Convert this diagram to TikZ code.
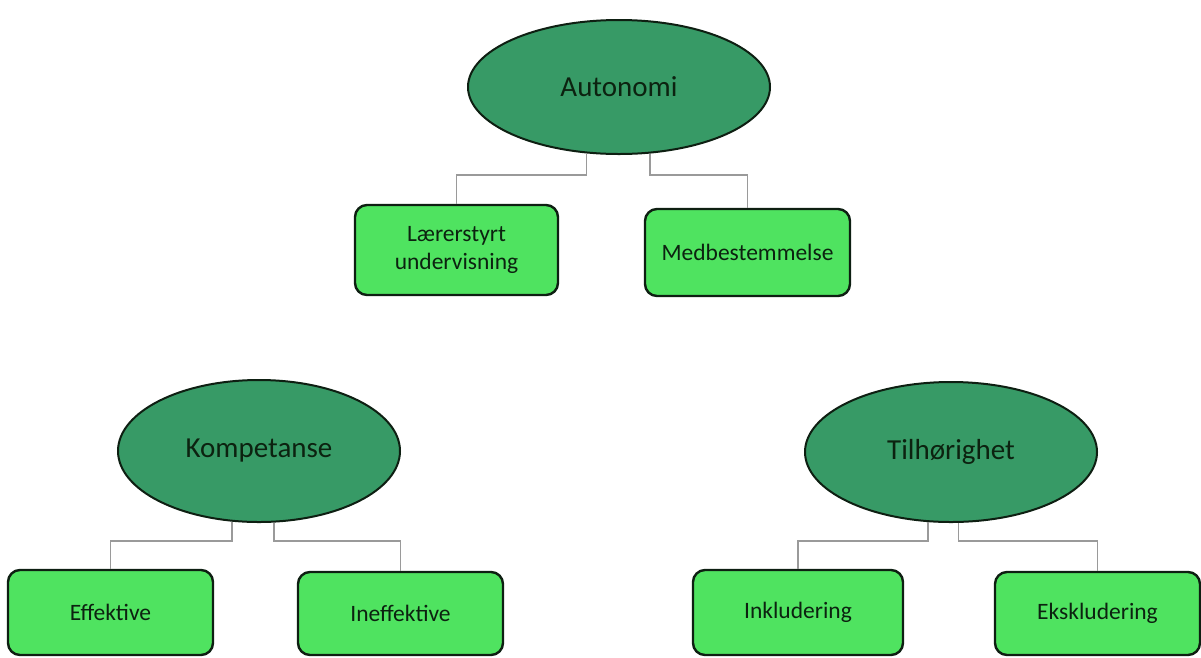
\documentclass[tikz,border=0pt]{standalone}
\usepackage{fontspec}
\setmainfont{Carlito}
\usetikzlibrary{shapes.geometric}
\definecolor{topicfill}{HTML}{379A66}
\definecolor{leaffill}{HTML}{4FE360}
\definecolor{edgedark}{HTML}{0E1F12}
\definecolor{linkgray}{HTML}{9A9A9A}
\definecolor{inkdark}{HTML}{0C2210}
\tikzset{
  topic/.style={ellipse, draw=edgedark, line width=2pt, fill=topicfill,
    inner sep=0pt, text=inkdark, font=\fontsize{29}{33}\selectfont},
  leaf/.style={rectangle, rounded corners=12pt, draw=edgedark, line width=2.4pt,
    fill=leaffill, inner sep=0pt, text=inkdark, align=center,
    font=\fontsize{23.5}{28}\selectfont},
  conn/.style={draw=linkgray, line width=1.6pt}
}
\begin{document}
\begin{tikzpicture}[x=1pt,y=-1pt]
\useasboundingbox (0,0) rectangle (1201,657);

% topics
\node[topic, minimum width=302pt, minimum height=134pt] (aut) at (619,87) {Autonomi};
\node[topic, minimum width=282pt, minimum height=142pt] (kom) at (259,451) {Kompetanse};
\node[topic, minimum width=292pt, minimum height=140pt] (til) at (951,452) {Tilhørighet};

% leaves
\node[leaf, minimum width=203pt, minimum height=90pt] (lae) at (456.5,250) {Lærerstyrt\\undervisning};
\node[leaf, minimum width=205pt, minimum height=87pt] (med) at (747.5,252.5) {Medbestemmelse};
\node[leaf, minimum width=205pt, minimum height=85pt] (eff) at (110.5,612.5) {Effektive};
\node[leaf, minimum width=205pt, minimum height=83pt] (ine) at (400.5,613.5) {Ineffektive};
\node[leaf, minimum width=210pt, minimum height=85pt] (ink) at (798,612.5) {Inkludering};
\node[leaf, minimum width=205pt, minimum height=83pt] (eks) at (1097.5,613.5) {Ekskludering};

% levels of the elbow connectors
\coordinate (autbus) at (0,175);
\coordinate (lowbus) at (0,541);

% connectors
\draw[conn] (aut.244.7) -- (aut.244.7 |- autbus) -| (lae.north);
\draw[conn] (aut.295.3) -- (aut.295.3 |- autbus) -| (med.north);
\draw[conn] (kom.249.6) -- (kom.249.6 |- lowbus) -| (eff.north);
\draw[conn] (kom.282.8) -- (kom.282.8 |- lowbus) -| (ine.north);
\draw[conn] (til.252) -- (til.252 |- lowbus) -| (ink.north);
\draw[conn] (til.276.5) -- (til.276.5 |- lowbus) -| (eks.north);
\end{tikzpicture}
\end{document}
